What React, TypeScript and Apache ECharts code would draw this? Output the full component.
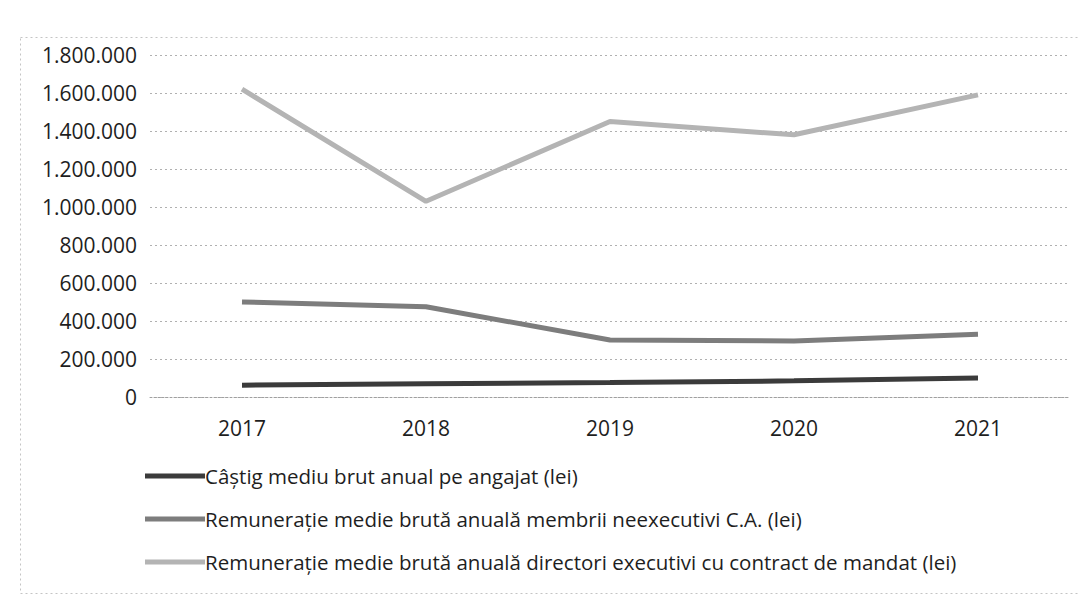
import React, { useEffect, useRef } from "react";
import * as echarts from "echarts";

const years = ["2017", "2018", "2019", "2020", "2021"];
const employeeAvg = [62000, 70000, 76000, 85000, 100000];
const nonExecBoard = [500000, 475000, 300000, 295000, 330000];
const execDirectors = [1620000, 1030000, 1450000, 1380000, 1590000];

const seriesNames = [
  "Câștig mediu brut anual pe angajat (lei)",
  "Remunerație medie brută anuală membrii neexecutivi C.A. (lei)",
  "Remunerație medie brută anuală directori executivi cu contract de mandat (lei)",
];
const seriesColors = ["#3b3b3b", "#7d7d7d", "#b4b4b4"];

const FONT = "'Open Sans', 'Noto Sans', sans-serif";

function fmt(v: number): string {
  return String(Math.round(v)).replace(/\B(?=(\d{3})+(?!\d))/g, ".");
}

export default function App() {
  const ref = useRef<HTMLDivElement>(null);
  useEffect(() => {
    if (!ref.current) return;
    const chart = echarts.init(ref.current, undefined, { renderer: "svg" });
    const data = [employeeAvg, nonExecBoard, execDirectors];
    chart.setOption({
      animation: false,
      backgroundColor: "#ffffff",
      textStyle: { fontFamily: FONT },
      grid: { left: 142, right: 8, top: 47, bottom: 202, containLabel: false },
      xAxis: {
        type: "category",
        data: years,
        boundaryGap: true,
        axisLine: { show: true, lineStyle: { color: "#a0a0a0", type: [2, 2], width: 1 } },
        axisTick: { show: false },
        axisLabel: { color: "#1e1e1e", fontSize: 21, margin: 20, fontFamily: FONT },
      },
      yAxis: {
        type: "value",
        min: 0,
        max: 1800000,
        interval: 200000,
        axisLine: { show: false },
        axisTick: { show: false },
        axisLabel: {
          color: "#1e1e1e",
          fontSize: 21,
          margin: 13,
          fontFamily: FONT,
          formatter: (v: number) => fmt(v),
        },
        splitLine: { show: true, lineStyle: { color: "#b0b0b0", type: [2, 3], width: 1 } },
      },
      legend: {
        orient: "vertical",
        left: 132,
        top: 452,
        itemWidth: 60,
        itemHeight: 5,
        itemGap: 21,
        icon: "rect",
        textStyle: {
          color: "#1e1e1e",
          fontSize: 20.5,
          lineHeight: 22,
          fontFamily: FONT,
          padding: [0, 0, 0, -5],
        },
        data: seriesNames,
      },
      series: seriesNames.map((name, i) => ({
        name,
        type: "line",
        data: data[i],
        symbol: "none",
        lineStyle: { color: seriesColors[i], width: 5 },
        itemStyle: { color: seriesColors[i] },
      })),
      graphic: [
        {
          type: "rect",
          left: 10,
          top: 27,
          shape: { width: 1068, height: 556 },
          style: { fill: "none", stroke: "#c4c4c4", lineWidth: 1, lineDash: [2, 3] },
          silent: true,
        },
      ],
    });
    return () => chart.dispose();
  }, []);
  return <div ref={ref} style={{ width: 1070, height: 591 }} />;
}
